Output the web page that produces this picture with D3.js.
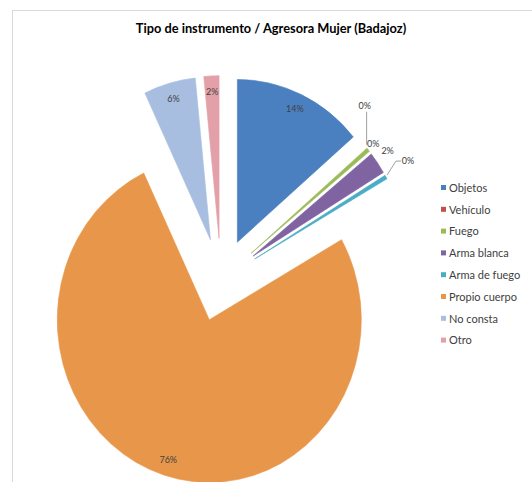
<!DOCTYPE html>
<html>
<head>
<meta charset="utf-8">
<script src="https://cdn.jsdelivr.net/npm/d3@7"></script>
<style>
  body { margin: 0; background: #fff; }
  text { font-family: Lato, "Open Sans", sans-serif; }
</style>
</head>
<body>
<div class="pie-container"></div>
<script>
// Data.
const categories = ["Objetos", "Vehículo", "Fuego", "Arma blanca", "Arma de fuego", "Propio cuerpo", "No consta", "Otro"];
const values = [13.8, 0.0, 0.4, 2.2, 0.4, 76.1, 5.5, 1.6];
const colors = ["#4a80c0", "#c0504d", "#9bbb59", "#8064a2", "#4bacc6", "#e8974a", "#a8bee0", "#e4a0a8"];
const title = "Tipo de instrumento / Agresora Mujer (Badajoz)";

const pieData = categories.map((c, i) => ({ name: c, value: values[i], color: colors[i] }));

// Layout.
const width = 532;
const height = 482;
const center = { x: 221, y: 280 };
const radius = 152;
const sy = 1.07; // the picture is a bit taller than wide
const explode = 39;

const svg = d3
  .select(".pie-container")
  .append("svg")
  .attr("width", width)
  .attr("height", height);

// chart frame
svg
  .append("rect")
  .attr("x", 12.5)
  .attr("y", 10.5)
  .attr("width", 540)
  .attr("height", 490)
  .attr("fill", "none")
  .attr("stroke", "#d9d9d9");

svg
  .append("text")
  .attr("x", 271)
  .attr("y", 33)
  .attr("text-anchor", "middle")
  .style("font-size", "12.8px")
  .style("font-weight", "bold")
  .style("fill", "#000")
  .text(title);

// Pie.
const pie = d3.pie().sort(null).value((d) => d.value);
const arcs = pie(pieData);
const arc = d3.arc().innerRadius(0).outerRadius(radius);

const total = d3.sum(values);
const pct = (d) => Math.round((d.data.value / total) * 100) + "%";
const mid = (d) => (d.startAngle + d.endAngle) / 2;
// polar -> screen, with the vertical stretch
const polar = (a, r) => [Math.sin(a) * r, -Math.cos(a) * r * sy];
const apex = (d) => polar(mid(d), explode);
const at = (d, r) => {
  const o = apex(d);
  const p = polar(mid(d), r);
  return [o[0] + p[0], o[1] + p[1]];
};

const g = svg.append("g").attr("transform", `translate(${center.x},${center.y})`);

const slices = g
  .selectAll(".slice")
  .data(arcs)
  .enter()
  .append("g")
  .attr("class", "slice");

slices
  .filter((d) => d.data.value > 0)
  .append("path")
  .attr("transform", (d) => `translate(${apex(d)}) scale(1,${sy})`)
  .attr("d", arc)
  .attr("fill", (d) => d.data.color)
  .attr("stroke", (d) => d.data.color)
  .attr("stroke-width", 0.6);

// Inside labels for the bigger slices.
slices
  .filter((d) => d.data.value >= 1 && d.data.name !== "Arma blanca")
  .append("text")
  .attr("transform", (d) => `translate(${at(d, radius * 0.9)})`)
  .attr("text-anchor", "middle")
  .attr("dy", "0.35em")
  .style("font-size", "9px")
  .style("fill", "#404040")
  .text(pct);

// Outside labels for the thin slices (Excel-ish placement).
const nudge = {
  "Vehículo": { dx: -2, dy: -42, leader: "vertical" },
  "Fuego": { dx: 5, dy: -6 },
  "Arma blanca": { dx: 10, dy: -12 },
  "Arma de fuego": { dx: 22, dy: -16, leader: "bend" },
};

slices
  .filter((d) => nudge[d.data.name])
  .each(function (d) {
    const n = nudge[d.data.name];
    const edge = at(d, radius);
    const lx = edge[0] + n.dx;
    const ly = edge[1] + n.dy;
    const sel = d3.select(this);
    if (n.leader === "vertical") {
      sel
        .append("path")
        .attr("d", `M${lx + 2},${ly + 6}V${edge[1] - 3}`)
        .attr("fill", "none")
        .attr("stroke", "#a0a0a0")
        .attr("stroke-width", 1);
    } else if (n.leader === "bend") {
      sel
        .append("path")
        .attr("d", `M${lx - 7},${ly}H${lx - 12}L${edge[0] + 1},${edge[1] - 2}`)
        .attr("fill", "none")
        .attr("stroke", "#a0a0a0")
        .attr("stroke-width", 1);
    }
    sel
      .append("text")
      .attr("x", lx)
      .attr("y", ly)
      .attr("text-anchor", "middle")
      .attr("dy", "0.35em")
      .style("font-size", "9px")
      .style("fill", "#404040")
      .text(pct(d));
  });

// Legend.
const legend = svg
  .append("g")
  .attr("class", "legend")
  .attr("transform", "translate(441, 188)");

const items = legend
  .selectAll(".item")
  .data(pieData)
  .enter()
  .append("g")
  .attr("class", "item")
  .attr("transform", (d, i) => `translate(0, ${i * 21.8})`);

items
  .append("rect")
  .attr("x", 0)
  .attr("y", -3)
  .attr("width", 5)
  .attr("height", 5)
  .attr("fill", (d) => d.color);

items
  .append("text")
  .attr("x", 8)
  .attr("y", 0)
  .attr("dy", "0.35em")
  .style("font-size", "11px")
  .style("fill", "#404040")
  .text((d) => d.name);
</script>
</body>
</html>
